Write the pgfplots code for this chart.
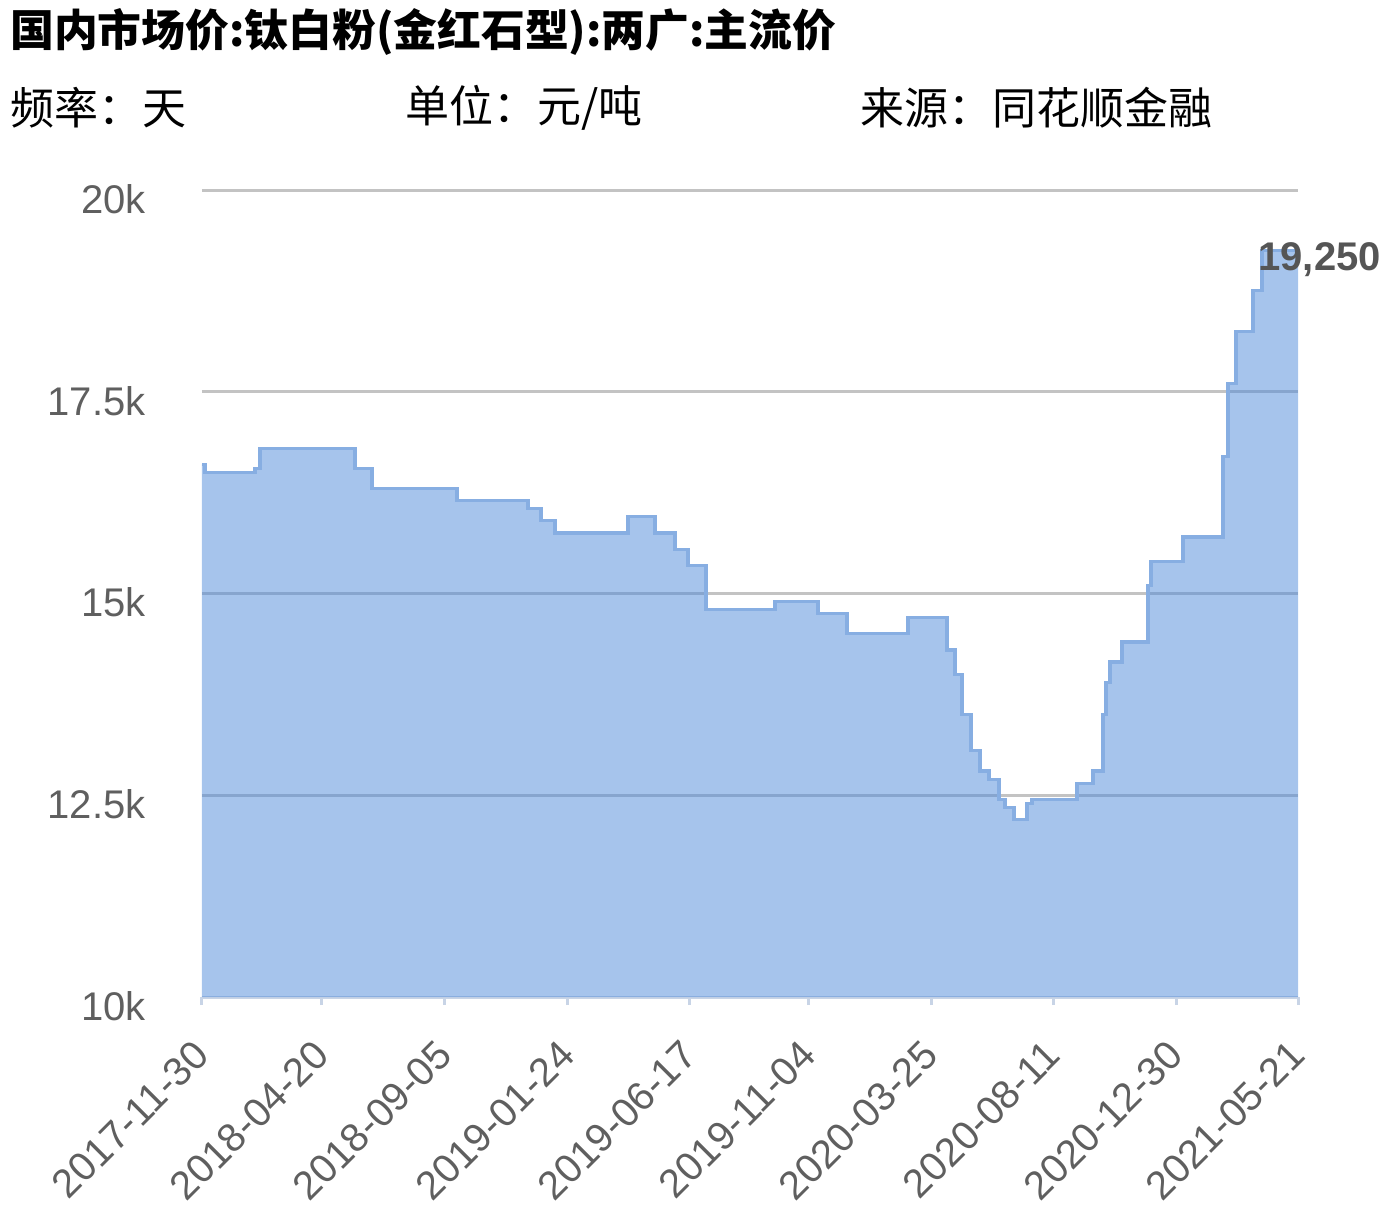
\documentclass[border=0pt]{standalone}
\usepackage{fontspec}
\setmainfont{Liberation Sans}
\newfontfamily\cjk{Noto Sans CJK SC}
\usepackage{pgfplots}
\pgfplotsset{compat=1.18}
\usepackage{pgfplotstable}
\definecolor{areafill}{RGB}{77,137,217}
\definecolor{arealine}{RGB}{135,174,226}
\definecolor{gridc}{RGB}{195,195,195}
\definecolor{axisc}{RGB}{200,212,230}
\definecolor{labc}{RGB}{95,95,95}
\definecolor{valc}{RGB}{85,85,85}

\pgfplotstableread{
x y
0 16600
3 16500
53 16550
58 16800
153 16550
170 16300
255 16150
326 16050
339 15900
353 15750
426 15950
453 15750
473 15550
486 15350
504 14800
573 14900
616 14750
645 14500
706 14700
745 14300
753 14000
760 13500
769 13050
778 12800
787 12700
797 12450
803 12350
812 12200
825 12400
830 12450
875 12650
891 12800
901 13500
904 13900
908 14150
920 14400
946 15100
949 15400
981 15700
1021 16700
1026 17600
1034 18250
1051 18750
1060 19250
1096 19250
}\prices

\begin{document}
\begin{tikzpicture}
\begin{axis}[
  at={(0pt,0pt)}, anchor=south west,
  scale only axis, width=548pt, height=403.5pt,
  xmin=0, xmax=1096, ymin=10000, ymax=20000,
  axis x line*=bottom, axis y line*=left,
  y axis line style={draw=none},
  ytick style={draw=none},
  x axis line style={axisc, line width=1.5pt, -},
  xtick style={axisc, line width=1.5pt},
  tick align=outside, major tick length=4pt,
  xtick={0,120,243,366,488,607,729,851,974,1096},
  xticklabels={2017-11-30,2018-04-20,2018-09-05,2019-01-24,2019-06-17,2019-11-04,2020-03-25,2020-08-11,2020-12-30,2021-05-21},
  ytick={10000,12500,15000,17500,20000},
  yticklabels={10k,12.5k,15k,17.5k,20k},
  scaled y ticks=false,
  ymajorgrids, grid style={gridc, line width=1.5pt},
  ticklabel style={font=\fontsize{20}{24}\selectfont, text=labc},
  xticklabel style={rotate=45, anchor=east, inner sep=0pt},
  yticklabel style={anchor=east, inner sep=0pt, yshift=-4.5pt},
  xticklabel shift=21.5pt,
  yticklabel shift=24pt,
  clip=false,
]
\addplot[const plot, draw=none, fill=areafill, fill opacity=0.5] table[x=x,y=y] {\prices} \closedcycle;
\addplot[const plot, draw=arealine, line width=1.6pt] table[x=x,y=y] {\prices};
\node[anchor=west, inner sep=0pt, xshift=-20pt, yshift=-4.5pt, text=valc, font=\bfseries\fontsize{20}{24}\selectfont] at (axis cs:1096,19250) {19,250};
\end{axis}
\node[anchor=west, inner sep=0pt, font=\cjk\bfseries\fontsize{21.9}{26}\selectfont] at (-96pt,482.5pt) {国内市场价:钛白粉(金红石型):两广:主流价};
\node[anchor=west, inner sep=0pt, font=\cjk\fontsize{22}{26}\selectfont] at (-96pt,444.5pt) {频率：天};
\node[anchor=west, inner sep=0pt, font=\cjk\fontsize{22}{26}\selectfont] at (101.5pt,444.5pt) {单位：元/吨};
\node[anchor=west, inner sep=0pt, font=\cjk\fontsize{22}{26}\selectfont] at (329pt,444.5pt) {来源：同花顺金融};
\pgfresetboundingbox
\useasboundingbox (-101pt,-115.5pt) rectangle (596pt,498.5pt);
\end{tikzpicture}
\end{document}
